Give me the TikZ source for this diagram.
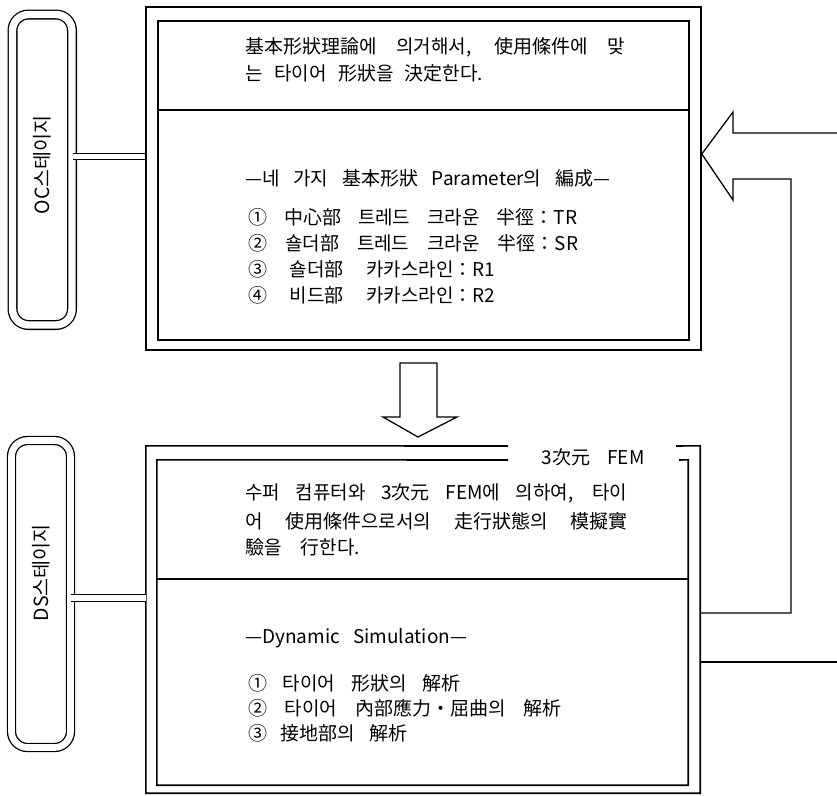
\documentclass[tikz,border=0pt]{standalone}
\usepackage{fontspec}
\setmainfont{Noto Sans CJK KR}
\usetikzlibrary{calc}
\begin{document}
\begin{tikzpicture}[x=1pt,y=-1pt,
  boxline/.style={line width=1.6pt},
  thinline/.style={line width=1.3pt, line join=miter},
  stagebox/.style={draw, line width=1.3pt, double, double distance=7.4pt, rounded corners=16pt, inner sep=0pt},
  frame/.style={draw, line width=1.6pt, inner sep=0pt},
  ghost/.style={inner sep=0pt},
  txt/.style={anchor=west, inner sep=0pt, font=\fontsize{19}{22}\selectfont},
  stagetxt/.style={rotate=90, inner sep=0pt, font=\fontsize{19.5}{22}\selectfont},
  dline/.style={line width=1.2pt, double, double distance=5pt},
]
\useasboundingbox (0,0) rectangle (837,795);

% ---------- OC stage ----------
\node[stagebox, minimum width=59.5pt, minimum height=310.5pt] (oclabel) at (42.25,169.75) {};
\node[stagetxt] (octxt) at (42,165) {OC스테이지};

\node[frame, minimum width=555pt, minimum height=343pt] (ocout) at (423.5,178.5) {};
\node[frame, minimum width=531pt, minimum height=319pt] (ocin) at (423.5,180.5) {};
\coordinate (ocdiv) at (0,110);
\draw[boxline] (ocin.west |- ocdiv) -- (ocin.east |- ocdiv);

\coordinate (ocy) at (0,156.5);
\draw[dline] (oclabel.east |- ocy) -- (ocout.west |- ocy);

\node[txt] (t1) at (245,47) {\makebox[380pt][s]{基本形狀理論에 의거해서, 使用條件에 맞}};
\node[txt] (t2) at (245,73) {\makebox[238pt][s]{는 타이어 形狀을 決定한다.}};
\node[txt] (t3) at (245,178) {\makebox[365pt][s]{—네 가지 基本形狀 Parameter의 編成—}};
\node[txt] (t4) at (248,217) {\makebox[329pt][s]{① 中心部 트레드 크라운 半徑：TR}};
\node[txt] (t5) at (248,243) {\makebox[330pt][s]{② 숄더部 트레드 크라운 半徑：SR}};
\node[txt] (t6) at (248,269) {\makebox[247pt][s]{③ 숄더部 카카스라인：R1}};
\node[txt] (t7) at (248,295) {\makebox[247pt][s]{④ 비드部 카카스라인：R2}};

% ---------- down arrow ----------
\draw[thinline] (400,363) -- (437,363) -- (437,417) -- (457,417) -- (418,437) -- (383,417) -- (400,417) -- cycle;

% ---------- DS stage ----------
\node[stagebox, double distance=6.7pt, minimum width=59pt, minimum height=307pt] (dslabel) at (41,594) {};
\node[stagetxt] (dstxt) at (41,573) {DS스테이지};

\node[ghost, minimum width=554pt, minimum height=347pt] (dsout) at (423,619.5) {};
\node[ghost, minimum width=531pt, minimum height=325pt] (dsin) at (422.5,622.5) {};
\node[txt, anchor=center] (fem) at (593,457) {\makebox[103pt][s]{3次元 FEM}};

\draw[boxline] (508,446) -- (dsout.north west) -- (dsout.south west) -- (dsout.south east) -- (dsout.north east) -- (676,446);
\draw[boxline] (508,460) -- (dsin.north west) -- (dsin.south west) -- (dsin.south east) -- (dsin.north east) -- (679,460);
\coordinate (dsdiv) at (0,579);
\draw[boxline] (dsin.west |- dsdiv) -- (dsin.east |- dsdiv);

\coordinate (dsy) at (0,598);
\draw[dline, double distance=6pt] (dslabel.east |- dsy) -- (dsout.west |- dsy);

\node[txt] (b1) at (245,493) {\makebox[382pt][s]{수퍼 컴퓨터와 3次元 FEM에 의하여, 타이}};
\node[txt] (b2) at (245,521) {\makebox[382pt][s]{어 使用條件으로서의 走行狀態의 模擬實}};
\node[txt] (b3) at (245,547) {\makebox[115pt][s]{驗을 行한다.}};
\node[txt] (b4) at (245,638) {\makebox[222pt][s]{—Dynamic Simulation—}};
\node[txt] (b5) at (248,683) {\makebox[212pt][s]{① 타이어 形狀의 解析}};
\node[txt] (b6) at (248,708) {\makebox[313pt][s]{② 타이어 內部應力・屈曲의 解析}};
\node[txt] (b7) at (248,733) {\makebox[159pt][s]{③ 接地部의 解析}};

% ---------- feedback arrow ----------
\coordinate (tipy) at (0,154);
\coordinate (r1) at (0,613);
\coordinate (r2) at (0,662);
\draw[thinline] (dsout.east |- r1) -- (791,613) -- (791,179) -- (733,179) -- (733,200)
  -- (ocout.east |- tipy) -- (733,112) -- (733,133) -- (837,133);
\draw[thinline] (dsout.east |- r2) -- (837,662);
\end{tikzpicture}
\end{document}
